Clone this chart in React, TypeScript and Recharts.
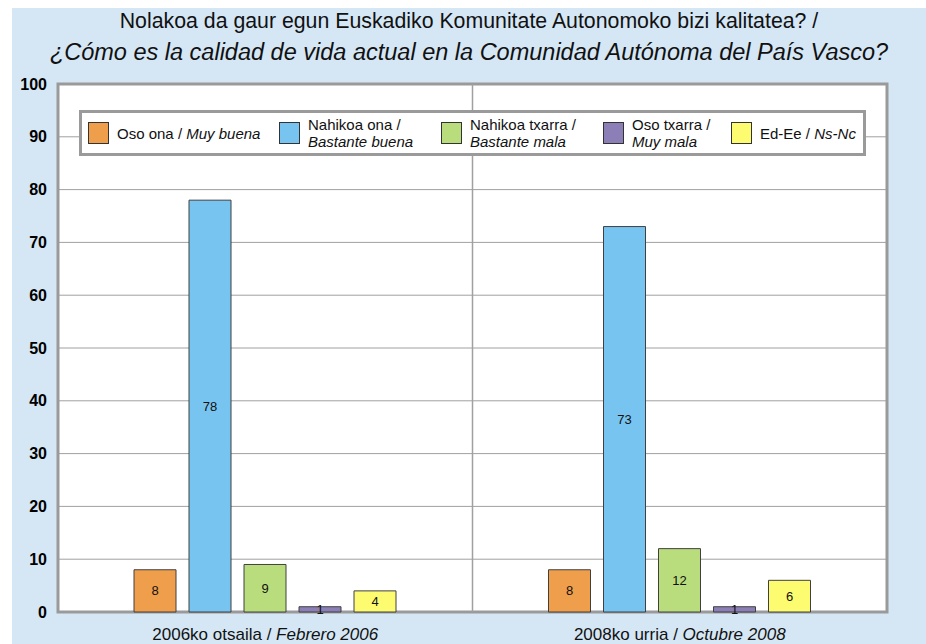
import React from 'react';
import {
  BarChart, Bar, XAxis, YAxis, CartesianGrid, LabelList, Legend, ReferenceArea, ReferenceLine
} from 'recharts';

const periodsEu = ['2006ko otsaila', '2008ko urria'];
const periodsEs = ['Febrero 2006', 'Octubre 2008'];

const osoOna = [8, 8];
const nahikoaOna = [78, 73];
const nahikoaTxarra = [9, 12];
const osoTxarra = [1, 1];
const edEe = [4, 6];

const seriesKeys = ['osoOna', 'nahikoaOna', 'nahikoaTxarra', 'osoTxarra', 'edEe'];
const seriesEu = ['Oso ona', 'Nahikoa ona', 'Nahikoa txarra', 'Oso txarra', 'Ed-Ee'];
const seriesEs = ['Muy buena', 'Bastante buena', 'Bastante mala', 'Muy mala', 'Ns-Nc'];
const seriesColors = ['#EF9E4B', '#78C4F1', '#B9DD7C', '#8C7FB7', '#FDFC70'];

const yTicks = [0, 10, 20, 30, 40, 50, 60, 70, 80, 90, 100];

const data = periodsEu.map((p, i) => ({
  period: p,
  es: periodsEs[i],
  osoOna: osoOna[i],
  nahikoaOna: nahikoaOna[i],
  nahikoaTxarra: nahikoaTxarra[i],
  osoTxarra: osoTxarra[i],
  edEe: edEe[i],
}));

const FONT = '"Liberation Sans", Arial, sans-serif';

// legend item slot widths and whether the label wraps onto two lines
const legendSlots = [191, 162, 162, 128, 120];
const legendStacked = [false, true, true, true, false];

const PeriodTick = ({ x, y, payload, index }: any) => (
  <text x={x} y={y + 26} textAnchor="middle" fontSize={17} fontFamily={FONT} fill="#111">
    <tspan>{payload.value} / </tspan>
    <tspan fontStyle="italic">{periodsEs[index]}</tspan>
  </text>
);

const LegendBox = () => (
  <div
    style={{
      boxSizing: 'border-box',
      width: 787,
      height: 46,
      background: '#fff',
      border: '3px solid #9a9a9a',
      display: 'flex',
      alignItems: 'center',
      paddingLeft: 6,
      fontFamily: FONT,
      fontSize: 15,
      color: '#111',
    }}
  >
    {seriesKeys.map((k, i) => (
      <div key={k} style={{ width: legendSlots[i], display: 'flex', alignItems: 'center', flex: 'none' }}>
        <div
          style={{
            width: 21,
            height: 22,
            boxSizing: 'border-box',
            background: seriesColors[i],
            border: '1px solid #333',
            marginRight: 8,
            flex: 'none',
          }}
        />
        {legendStacked[i] ? (
          <div style={{ lineHeight: '17px', whiteSpace: 'nowrap' }}>
            <div>{seriesEu[i]} /</div>
            <div style={{ fontStyle: 'italic' }}>{seriesEs[i]}</div>
          </div>
        ) : (
          <div style={{ whiteSpace: 'nowrap' }}>
            {seriesEu[i]} / <span style={{ fontStyle: 'italic' }}>{seriesEs[i]}</span>
          </div>
        )}
      </div>
    ))}
  </div>
);

export default function App() {
  return (
    <div style={{ position: 'absolute', left: 0, top: 0, width: 926, height: 644, background: '#fff' }}>
      <div
        style={{
          position: 'absolute',
          left: 12,
          top: 8,
          width: 914,
          height: 636,
          background: '#D5E7F5',
        }}
      >
        <BarChart
          width={914}
          height={636}
          data={data}
          margin={{ top: 76, right: 39, left: 0, bottom: 0 }}
          barGap={13}
        >
          <CartesianGrid
            vertical={false}
            stroke="#a0a0a0"
            strokeWidth={1}
            fill="#fff"
            fillOpacity={1}
          />
          <XAxis
            dataKey="period"
            axisLine={false}
            tickLine={false}
            tickSize={0}
            height={32}
            tick={<PeriodTick />}
            interval={0}
          />
          <YAxis
            domain={[0, 100]}
            ticks={yTicks}
            interval={0}
            width={46}
            axisLine={false}
            tickLine={false}
            tickSize={0}
            tickMargin={11}
            tick={{ fill: '#000', fontSize: 16, fontWeight: 700, fontFamily: FONT }}
          />
          {/* separator between the two survey dates: start of the second band */}
          <ReferenceLine x={periodsEu[1]} position="start" stroke="#a0a0a0" strokeWidth={1.5} />
          <Legend
            layout="horizontal"
            verticalAlign="middle"
            align="center"
            content={() => <LegendBox />}
            wrapperStyle={{ left: 67, top: 102, width: 787, height: 46 }}
          />
          {seriesKeys.map((k, i) => (
            <Bar
              key={k}
              dataKey={k}
              name={seriesEu[i]}
              fill={seriesColors[i]}
              stroke="#404040"
              strokeWidth={1}
              barSize={42}
              isAnimationActive={false}
            >
              <LabelList
                dataKey={k}
                position="center"
                fill="#111"
                fontSize={13}
                fontFamily={FONT}
              />
            </Bar>
          ))}
          <ReferenceArea
            y1={0}
            y2={100}
            fill="none"
            stroke="#9a9a9a"
            strokeWidth={3}
            ifOverflow="visible"
          />
        </BarChart>
      </div>
      <div
        style={{
          position: 'absolute',
          left: 12,
          top: 6,
          width: 914,
          textAlign: 'center',
          fontFamily: FONT,
          color: '#111',
        }}
      >
        <div style={{ fontSize: 21.3, lineHeight: '31px' }}>
          Nolakoa da gaur egun Euskadiko Komunitate Autonomoko bizi kalitatea? /
        </div>
        <div style={{ fontStyle: 'italic', fontSize: 23.5, lineHeight: '31px' }}>
          ¿Cómo es la calidad de vida actual en la Comunidad Autónoma del País Vasco?
        </div>
      </div>
    </div>
  );
}
